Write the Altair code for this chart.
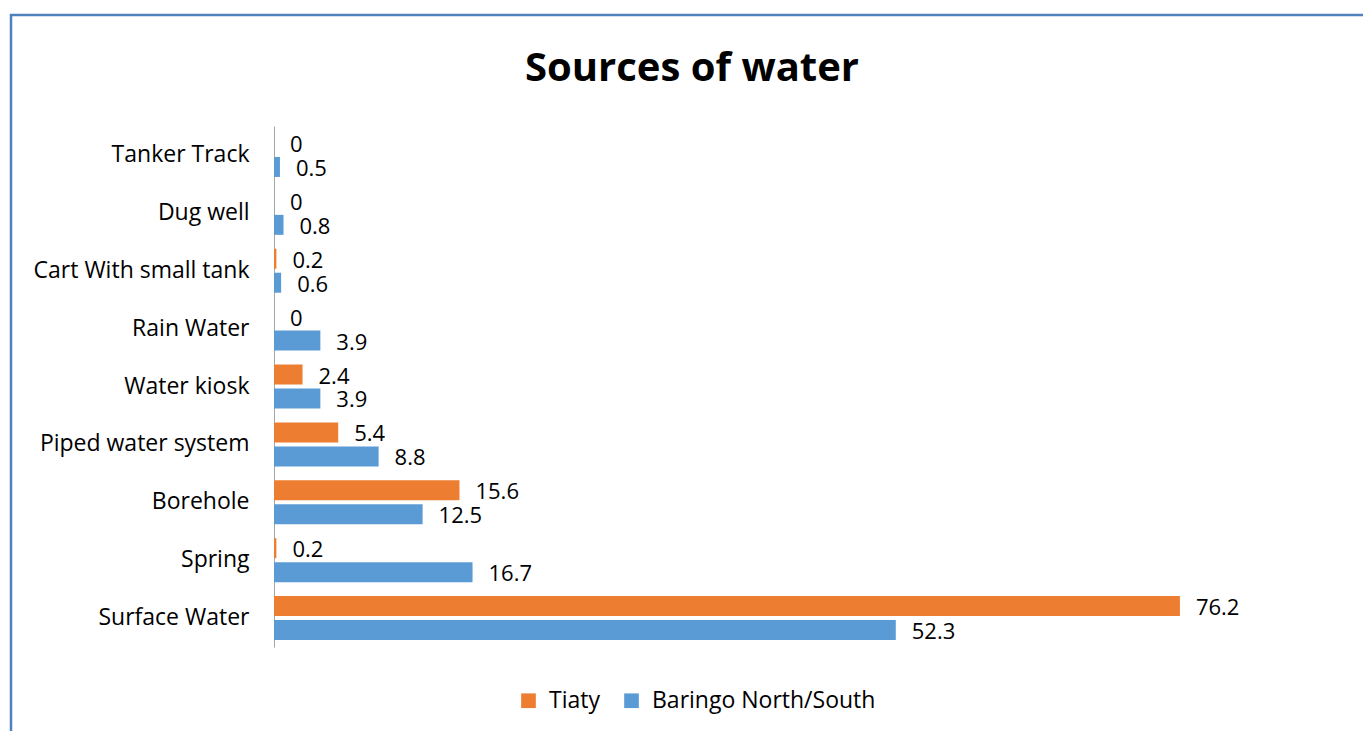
import altair as alt
import pandas as pd

sources = ["Tanker Track", "Dug well", "Cart With small tank", "Rain Water",
           "Water kiosk", "Piped water system", "Borehole", "Spring", "Surface Water"]
tiaty = [0, 0, 0.2, 0, 2.4, 5.4, 15.6, 0.2, 76.2]
baringo = [0.5, 0.8, 0.6, 3.9, 3.9, 8.8, 12.5, 16.7, 52.3]
series = ["Tiaty", "Baringo North/South"]
colors = ["#ED7D31", "#5B9BD5"]

rows = []
for s, t, b in zip(sources, tiaty, baringo):
    rows.append({"source": s, "series": series[0], "value": t})
    rows.append({"source": s, "series": series[1], "value": b})
df = pd.DataFrame(rows)

FONT = "Open Sans"

y_enc = alt.Y("source:N", sort=sources,
              scale=alt.Scale(paddingInner=0.24, paddingOuter=0.12),
              axis=alt.Axis(title=None, ticks=False, grid=False, domainColor="#A6A6A6",
                            domainWidth=1, labelFont=FONT, labelFontSize=23,
                            labelColor="#000000", labelPadding=25, labelLimit=400))
x_enc = alt.X("value:Q", scale=alt.Scale(domain=[0, 90], nice=False), axis=None)
yoff = alt.YOffset("series:N", sort=series, scale=alt.Scale(paddingInner=1/6, paddingOuter=0))

bars = alt.Chart(df).mark_bar().encode(
    y=y_enc, x=x_enc, yOffset=yoff,
    color=alt.Color("series:N", sort=series,
                    scale=alt.Scale(domain=series, range=colors),
                    legend=alt.Legend(title=None, orient="none", direction="horizontal",
                                      legendX=243, legendY=563, symbolType="square",
                                      symbolSize=215, symbolStrokeWidth=0,
                                      labelFont=FONT, labelFontSize=23, labelColor="#000000",
                                      labelOffset=9, columnPadding=20, labelLimit=400)),
)

labels = alt.Chart(df).mark_text(align="left", baseline="middle", dx=16, dy=2,
                                 font=FONT, fontSize=22, color="#000000").encode(
    y=alt.Y("source:N", sort=sources), x="value:Q", yOffset=yoff,
    text=alt.Text("value:Q", format=".1~f"),
)

frame = alt.Chart(pd.DataFrame({"f": [0]})).mark_rect(
    filled=False, stroke="#4F81BD", strokeWidth=2.5).encode(
    x=alt.value(-263), x2=alt.value(1200), y=alt.value(-111), y2=alt.value(700))

chart = alt.layer(frame, bars, labels).properties(
    width=1070, height=521,
    title=alt.TitleParams("Sources of water", font=FONT, fontSize=40, fontWeight="bold",
                          color="#000000", anchor="middle", frame="group",
                          dx=-117, dy=75, offset=0),
    autosize=alt.AutoSizeParams(type="none"),
    padding={"left": 274, "top": 126, "right": 19, "bottom": 84},
    background="white",
).configure_view(stroke=None)

chart.save("out.html", embed_options={"renderer": "svg", "actions": False})
